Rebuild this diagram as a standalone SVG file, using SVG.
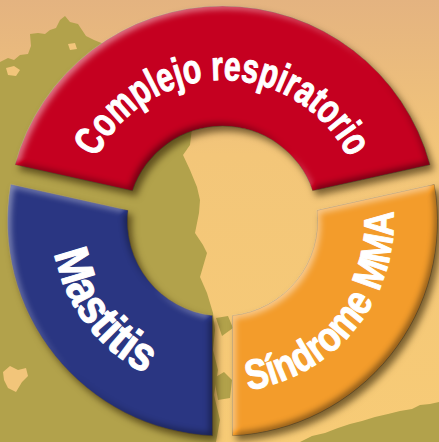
<svg xmlns="http://www.w3.org/2000/svg" width="439" height="442" viewBox="0 0 439 442">
  <defs>
    <linearGradient id="bg" x1="0" y1="0" x2="0" y2="1">
      <stop offset="0" stop-color="#E4B380"/>
      <stop offset="0.35" stop-color="#F3C679"/>
      <stop offset="1" stop-color="#F7CB76"/>
    </linearGradient>
    <filter id="bevel" x="-10%" y="-10%" width="125%" height="125%" color-interpolation-filters="sRGB">
      <feGaussianBlur in="SourceAlpha" stdDeviation="3" result="b"/>
      <feOffset in="b" dx="-3" dy="-3" result="bUL"/>
      <feOffset in="b" dx="3" dy="3" result="bDR"/>
      <feComposite in="bUL" in2="bDR" operator="arithmetic" k1="0" k2="1" k3="-1" k4="0" result="hiM"/>
      <feComposite in="bDR" in2="bUL" operator="arithmetic" k1="0" k2="1" k3="-1" k4="0" result="loM"/>
      <feFlood flood-color="#ffffff" flood-opacity="0.5"/>
      <feComposite in2="hiM" operator="in" result="hi"/>
      <feFlood flood-color="#000000" flood-opacity="0.45"/>
      <feComposite in2="loM" operator="in" result="lo"/>
      <feMerge result="body">
        <feMergeNode in="SourceGraphic"/>
        <feMergeNode in="hi"/>
        <feMergeNode in="lo"/>
      </feMerge>
      <feComposite in="body" in2="SourceAlpha" operator="in" result="bodyClip"/>
      <feGaussianBlur in="SourceAlpha" stdDeviation="3.5"/>
      <feOffset dx="4" dy="5" result="sh"/>
      <feFlood flood-color="#2a1a00" flood-opacity="0.6"/>
      <feComposite in2="sh" operator="in" result="shadow"/>
      <feMerge>
        <feMergeNode in="shadow"/>
        <feMergeNode in="bodyClip"/>
      </feMerge>
    </filter>
    <path id="arcRed" d="M81.5,221 A141,141 0 0 1 363.5,221"/>
    <path id="arcBlue" d="M65.09,154.19 A171,171 0 0 0 243.34,390.73"/>
    <path id="arcOrange" d="M195.75,389.89 A171,171 0 0 0 382.14,159.72"/>
  </defs>
  <style>
    .seg { stroke: #6b5a3a; stroke-opacity: 0.7; stroke-width: 0.8; stroke-linejoin: round; filter: url(#bevel); }
    .lbl { font-family: "Liberation Sans Narrow", "Liberation Sans", "DejaVu Sans Condensed", sans-serif; font-weight: bold; fill: #ffffff; stroke: #ffffff; stroke-width: 1.1; stroke-linejoin: round; text-anchor: middle; }
    .olive { fill: #B2A24B; }
    .light { fill: #F2C57A; }
  </style>

  <g id="background">
    <rect x="0" y="0" width="439" height="442" fill="url(#bg)"/>
    <path class="olive" d="M0,62 L8,58 L14,60 L20,55 L28,54 L31,46 L30,34 L38,33 L45,34 L50,30 L56,28 L60,20 L65,16 L70,22 L78,24 L82,30 L86,36 L94,40 L104,44 L160,137 L192,128 L190,145 L183,155 L190,170 L197,187 L200,200 L199,213 L195,233 L203,245 L207,253 L200,277 L207,293 L213,313 L215,330 L213,350 L218,370 L214,395 L220,420 L216,442 L0,442 Z"/>
    <path class="olive" d="M214,378 L224,372 L232,380 L230,398 L218,400 Z M216,318 L228,316 L233,328 L222,336 Z"/>
    <path class="olive" d="M300,442 L312,436 L325,433 L338,428 L350,424 L362,421 L375,417 L388,414 L400,411 L412,409 L420,405 L430,404 L439,402 L439,442 Z"/>
    <path class="light" d="M3,372 L10,366 L18,370 L26,368 L28,376 L22,382 L16,392 L8,388 L4,380 Z M6,68 L14,66 L20,70 L16,76 L8,75 Z M68,44 L75,43 L77,49 L70,50 Z"/>
  </g>

  <g id="connectors"/>

  <g id="node-complejo">
    <path class="seg" fill="#C50020" d="M14.99,164.75 A215,215 0 0 1 430.01,164.75 L312.57,190.79 A95,95 0 0 0 132.43,190.79 Z"/>
    <text class="lbl" font-size="41"><textPath href="#arcRed" startOffset="50%" textLength="312" lengthAdjust="spacingAndGlyphs">Complejo respiratorio</textPath></text>
  </g>

  <g id="node-mastitis">
    <path class="seg" fill="#2A3682" d="M10.66,184.28 A215,215 0 0 0 212.5,435.77 L212.5,315.47 A95,95 0 0 1 128.10,210.32 Z"/>
    <text class="lbl" font-size="48"><textPath href="#arcBlue" startOffset="50%" textLength="156" lengthAdjust="spacingAndGlyphs">Mastitis</textPath></text>
  </g>

  <g id="node-mma">
    <path class="seg" fill="#F39C2B" d="M434.34,184.28 L316.90,210.32 A95,95 0 0 1 232.5,315.47 L232.5,435.77 A215,215 0 0 0 434.34,184.28 Z"/>
    <text class="lbl" font-size="42"><textPath href="#arcOrange" startOffset="50%" textLength="252" lengthAdjust="spacingAndGlyphs">Síndrome MMA</textPath></text>
  </g>
</svg>
